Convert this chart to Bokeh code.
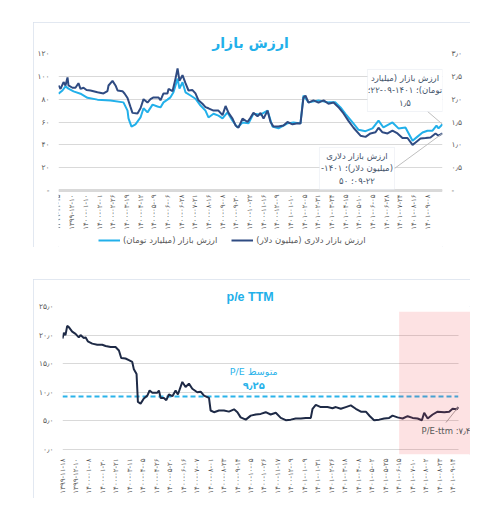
import math
from bokeh.plotting import figure
from bokeh.models import (Range1d, LinearAxis, FixedTicker, CustomJSTickFormatter, Legend,
                          LegendItem, Label, BoxAnnotation, Spacer)
from bokeh.layouts import column, row
from bokeh.embed import file_html
from bokeh.resources import INLINE

FA = "DejaVu Sans"
GRAY = "#595959"
LIGHT = "#22b0ea"
DARK = "#2f4b82"

# ---------------- top chart data ----------------
mv_dates = ["۱۳۹۹-۱۱-۱۵", "۱۳۹۹-۱۲-۱۰", "۱۴۰۰-۰۱-۱۰", "۱۴۰۰-۰۲-۰۱", "۱۴۰۰-۰۲-۲۶", "۱۴۰۰-۰۳-۱۹",
            "۱۴۰۰-۰۴-۱۲", "۱۴۰۰-۰۵-۰۹", "۱۴۰۰-۰۶-۰۶", "۱۴۰۰-۰۶-۲۸", "۱۴۰۰-۰۷-۲۱", "۱۴۰۰-۰۸-۱۶",
            "۱۴۰۰-۰۹-۰۸", "۱۴۰۰-۰۹-۳۰", "۱۴۰۰-۱۰-۲۲", "۱۴۰۰-۱۱-۱۶", "۱۴۰۰-۱۲-۰۹", "۱۴۰۱-۰۱-۱۰",
            "۱۴۰۱-۰۲-۰۵", "۱۴۰۱-۰۲-۳۱", "۱۴۰۱-۰۳-۲۴", "۱۴۰۱-۰۴-۱۵", "۱۴۰۱-۰۵-۱۰", "۱۴۰۱-۰۶-۰۵",
            "۱۴۰۱-۰۶-۲۸", "۱۴۰۱-۰۷-۲۴", "۱۴۰۱-۰۸-۱۶", "۱۴۰۱-۰۹-۰۸"]

# market value in million USD (left axis); x = position on the date axis
usd_x = [0.00, 0.15, 0.37, 0.51, 0.66, 0.73, 1.02, 1.24, 1.46, 1.61, 1.83, 2.05, 2.34, 2.85, 3.29,
         3.58, 3.66, 3.95, 4.17, 4.32, 4.68, 4.83, 5.05, 5.27, 5.41, 5.78, 6.00, 6.22, 6.51, 6.73,
         6.95, 7.32, 7.46, 7.68, 7.97, 8.05, 8.34, 8.56, 8.71, 8.85, 9.07, 9.29, 9.51, 9.80, 10.02,
         10.24, 10.53, 10.75, 10.97, 11.34, 11.70, 12.00, 12.22, 12.44, 12.73, 12.95, 13.17, 13.46,
         13.83, 14.05, 14.26, 14.56, 14.78, 15.00, 15.29, 15.51, 15.73, 16.09, 16.46, 16.75, 17.12,
         17.48, 17.70, 17.92, 18.07, 18.29, 18.65, 19.02, 19.39, 19.75, 20.12, 20.48, 20.85, 21.21,
         21.58, 22.09, 22.46, 22.82, 23.19, 23.41, 23.70, 24.07, 24.43, 24.80, 25.16, 25.53, 25.90,
         26.12, 26.48, 26.85, 27.21, 27.58, 27.80, 28.09]
usd_y = [92, 89, 95, 92, 99, 92, 90, 90, 94, 89, 90, 88, 87.6, 86, 85,
         87, 92, 96, 92, 87.6, 87, 85, 81, 73, 68, 67.5, 72, 80, 77, 80,
         81.5, 81.5, 79, 85, 85, 89, 87, 98, 107, 96, 101, 94, 87.6, 88, 85,
         79, 76, 73, 72, 70, 70, 66, 74, 68, 63, 57, 55, 63,
         60, 64, 68, 65, 68, 63, 70, 60, 56, 56, 57, 60, 58,
         59, 58.6, 81.5, 83, 77, 79, 77, 79, 76, 77, 73, 67.5, 61,
         55, 48, 47, 50, 51, 55, 51, 50, 52.5, 50, 46, 46, 40,
         42, 45.5, 46, 46.5, 50, 48, 50]

# market value in thousand billion toman (right axis)
toman_x = [0.00, 0.29, 0.51, 0.73, 1.10, 1.61, 2.12, 2.85, 3.80, 4.75, 5.05, 5.12, 5.34, 5.63, 6.00,
           6.22, 6.51, 6.88, 7.24, 7.46, 7.68, 7.97, 8.19, 8.41, 8.71, 8.85, 9.07, 9.29, 9.66,
           10.02, 10.39, 10.75, 10.97, 11.34, 11.70, 12.00, 12.36, 12.73, 13.09, 13.46, 13.90,
           14.26, 14.78, 15.29, 15.65, 16.09, 16.75, 17.19, 17.70, 17.92, 18.29, 19.02, 19.75,
           20.26, 20.63, 20.99, 21.51, 21.95, 22.46, 22.97, 23.41, 23.77, 24.43, 24.87, 25.38,
           25.90, 26.26, 26.63, 26.99, 27.36, 27.65, 27.80, 28.09]
toman_y = [2.12, 2.19, 2.28, 2.23, 2.17, 2.12, 2.03, 1.99, 1.97, 1.93, 1.75, 1.58, 1.40, 1.45, 1.60,
           1.80, 1.71, 1.88, 1.84, 1.82, 1.93, 1.99, 2.04, 2.15, 2.45, 2.23, 2.37, 2.15, 2.08,
           2.01, 1.86, 1.75, 1.60, 1.68, 1.64, 1.58, 1.71, 1.53, 1.38, 1.49, 1.47,
           1.68, 1.66, 1.75, 1.40, 1.36, 1.47, 1.49, 1.47, 2.08, 1.93, 1.97, 1.93,
           1.93, 1.82, 1.68, 1.49, 1.33, 1.30, 1.36, 1.53, 1.38, 1.49, 1.36, 1.38,
           1.09, 1.18, 1.27, 1.31, 1.31, 1.42, 1.36, 1.45]

# ---------------- bottom chart data ----------------
pe_dates = ["۱۳۹۹-۱۱-۱۸", "۱۳۹۹-۱۲-۱۰", "۱۴۰۰-۰۱-۰۸", "۱۴۰۰-۰۱-۳۰", "۱۴۰۰-۰۲-۲۱", "۱۴۰۰-۰۳-۱۱",
            "۱۴۰۰-۰۴-۰۵", "۱۴۰۰-۰۴-۲۶", "۱۴۰۰-۰۵-۲۰", "۱۴۰۰-۰۶-۱۶", "۱۴۰۰-۰۷-۰۷", "۱۴۰۰-۰۸-۰۱",
            "۱۴۰۰-۰۸-۲۳", "۱۴۰۰-۰۹-۱۴", "۱۴۰۰-۱۰-۰۵", "۱۴۰۰-۱۰-۲۶", "۱۴۰۰-۱۱-۱۷", "۱۴۰۰-۱۲-۰۹",
            "۱۴۰۱-۰۱-۰۹", "۱۴۰۱-۰۱-۳۱", "۱۴۰۱-۰۲-۲۶", "۱۴۰۱-۰۳-۱۸", "۱۴۰۱-۰۴-۰۸", "۱۴۰۱-۰۵-۰۲",
            "۱۴۰۱-۰۵-۲۵", "۱۴۰۱-۰۶-۱۵", "۱۴۰۱-۰۷-۱۰", "۱۴۰۱-۰۸-۰۲", "۱۴۰۱-۰۸-۲۳", "۱۴۰۱-۰۹-۱۴"]
pe_x = [0.00, 0.10, 0.22, 0.35, 0.47, 0.72, 0.97, 1.21, 1.34, 1.58, 1.71, 1.88, 2.21, 2.58, 2.95,
        3.20, 3.57, 3.94, 4.19, 4.36, 4.68, 4.93, 5.18, 5.30, 5.50, 5.60, 5.80, 6.04, 6.30, 6.47,
        6.67, 7.04, 7.16, 7.29, 7.53, 7.71, 7.90, 8.16, 8.40, 8.57, 8.90, 9.14, 9.39, 9.64, 10.01,
        10.26, 10.51, 10.88, 11.00, 11.25, 11.62, 11.99, 12.36, 12.74, 12.99, 13.23, 13.61, 13.98,
        14.35, 14.72, 15.09, 15.46, 15.84, 16.21, 16.58, 16.95, 17.32, 17.70, 18.07, 18.44, 18.57,
        18.81, 19.18, 19.68, 20.05, 20.30, 20.67, 21.04, 21.41, 21.78, 22.16, 22.53, 22.83, 23.14,
        23.52, 23.89, 24.26, 24.51, 24.88, 25.26, 25.63, 26.00, 26.37, 26.69, 26.86, 27.12, 27.49,
        27.86, 28.35, 28.72, 28.97, 29.27, 29.39]
pe_y = [19.4, 20.4, 20.0, 21.6, 21.4, 20.6, 20.2, 19.6, 20.0, 19.5, 19.6, 18.9, 18.5, 18.3, 18.3,
        18.1, 17.9, 17.9, 17.3, 16.0, 15.9, 15.6, 15.3, 14.0, 13.2, 8.3, 8.0, 8.9, 9.4, 10.3,
        9.9, 9.9, 10.3, 9.0, 9.0, 8.6, 9.6, 9.3, 10.3, 9.6, 11.8, 10.9, 11.5, 10.6, 10.0,
        10.1, 9.4, 9.0, 6.8, 6.5, 6.8, 6.8, 6.6, 7.0, 6.5, 5.6, 5.2, 5.9,
        6.1, 6.2, 6.5, 6.1, 6.4, 5.5, 5.1, 5.2, 5.4, 5.4, 5.5, 5.5, 7.1,
        7.8, 7.4, 7.4, 7.2, 7.4, 7.1, 7.4, 7.7, 7.1, 6.6, 6.6, 5.8, 5.1,
        5.2, 5.4, 5.5, 5.9, 5.6, 5.4, 5.8, 5.5, 5.4, 5.1, 6.4, 5.4, 6.1,
        6.6, 6.5, 6.6, 7.1, 7.0, 7.4]
pe_mean = 9.25
pe_recent_start = 25.0

RLM = "\u200f"


def rtl(s):
    return RLM + s + RLM


fa_fmt_int = CustomJSTickFormatter(code="""
const fa = "۰۱۲۳۴۵۶۷۸۹";
if (tick == 0) return "-";
return String(Math.round(tick)).replace(/[0-9]/g, d => fa[d]);
""")
fa_fmt_dec_dash = CustomJSTickFormatter(code="""
const fa = "۰۱۲۳۴۵۶۷۸۹";
if (tick == 0) return "-";
return tick.toFixed(1).replace(".", "٫").replace(/[0-9]/g, d => fa[d]);
""")
fa_fmt_dec = CustomJSTickFormatter(code="""
const fa = "۰۱۲۳۴۵۶۷۸۹";
return tick.toFixed(1).replace(".", "٫").replace(/[0-9]/g, d => fa[d]);
""")


def style_y(ax, fmt):
    ax.formatter = fmt
    ax.axis_line_color = None
    ax.major_tick_line_color = None
    ax.minor_tick_line_color = None
    ax.major_tick_out = 0
    ax.minor_tick_out = 0
    ax.major_label_text_font = FA
    ax.major_label_text_font_size = "7.5px"
    ax.major_label_text_color = GRAY
    ax.major_label_standoff = 9


def style_x(ax, labels):
    ax.ticker = FixedTicker(ticks=list(range(len(labels))))
    ax.major_label_overrides = {i: lab for i, lab in enumerate(labels)}
    ax.major_label_orientation = math.pi / 2
    ax.major_tick_line_color = None
    ax.minor_tick_line_color = None
    ax.major_tick_out = 0
    ax.minor_tick_out = 0
    ax.major_label_text_font = FA
    ax.major_label_text_font_size = "7px"
    ax.major_label_text_color = GRAY
    ax.major_label_standoff = 4


BORDER = {"outline": "1.5px solid #d9e1ec", "outline-offset": "-1px"}

# ================= top figure =================
# the frame runs down to the bottom edge so that the legend under the date labels is not clipped;
# the date axis is pinned at value 0
p1 = figure(width=437, height=225, output_backend="svg", toolbar_location=None,
            x_range=Range1d(0, usd_x[-1]), y_range=Range1d(-49.9, 120),
            min_border_left=25, min_border_right=28, min_border_top=31, min_border_bottom=0,
            background_fill_color="white", border_fill_color="white", outline_line_color=None)
p1.frame_align = False
p1.styles = BORDER
p1.extra_y_ranges = {"toman": Range1d(-49.9 / 40, 3)}
p1.add_layout(LinearAxis(y_range_name="toman"), "right")

p1.title.text = "ارزش بازار"
p1.title.align = "center"
p1.title.text_font = FA
p1.title.text_font_size = "14px"
p1.title.text_font_style = "bold"
p1.title.text_color = LIGHT
p1.title.standoff = 6

p1.yaxis[0].ticker = FixedTicker(ticks=[0, 20, 40, 60, 80, 100, 120])
p1.yaxis[1].ticker = FixedTicker(ticks=[0, 0.5, 1, 1.5, 2, 2.5, 3])
style_y(p1.yaxis[0], fa_fmt_int)
style_y(p1.yaxis[1], fa_fmt_dec_dash)
style_x(p1.xaxis[0], mv_dates)
p1.xaxis[0].fixed_location = 0
p1.xaxis[0].axis_line_color = "#d9d9d9"
p1.xaxis[0].axis_line_width = 3
p1.xgrid.visible = False
p1.ygrid.grid_line_color = "#d9d9d9"

r_t = p1.line(toman_x, toman_y, y_range_name="toman", line_color=LIGHT, line_width=2)
r_u = p1.line(usd_x, usd_y, line_color=DARK, line_width=2)

leg = Legend(items=[LegendItem(label=rtl("ارزش بازار (میلیارد تومان)"), renderers=[r_t]),
                    LegendItem(label=rtl("ارزش بازار دلاری (میلیون دلار)"), renderers=[r_u])],
             orientation="horizontal", location=(40, 2), spacing=14, padding=0, margin=0,
             border_line_color=None, background_fill_alpha=0,
             label_text_font=FA, label_text_font_size="8.5px", label_text_color=GRAY,
             glyph_width=22, glyph_height=10, label_standoff=3, label_height=10)
p1.add_layout(leg)

# leader lines for data labels
p1.segment(x0=[27.0], y0=[69.2], x1=[toman_x[-1]], y1=[toman_y[-1] * 120 / 3],
           line_color="#bfbfbf", line_width=1)
p1.segment(x0=[24.58], y0=[19.3], x1=[usd_x[-1]], y1=[usd_y[-1]],
           line_color="#bfbfbf", line_width=1)

boxes = [
    (22.6, 28.09, 106.0, 69.2, ["ارزش بازار (میلیارد", "تومان)؛ ۱۴۰۱-۰۹-۲۲؛", "۱٫۵"]),
    (19.09, 24.58, 37.7, 0.9, ["ارزش بازار دلاری", "(میلیون دلار)؛ ۱۴۰۱-", "۰۹-۲۲؛ ۵۰"]),
]
for (bl, br, bt, bb, lines) in boxes:
    p1.add_layout(BoxAnnotation(left=bl, right=br, top=bt, bottom=bb, fill_color="white",
                                fill_alpha=1, line_color="#d0d8e4", line_width=1))
    cx = (bl + br) / 2
    step = (bt - bb) / 3.4
    for k, ln in enumerate(lines):
        p1.add_layout(Label(x=cx, y=bt - step * (k + 0.7), text=rtl(ln), text_align="center",
                            text_baseline="middle", text_font=FA, text_font_size="8.5px",
                            text_color="#44546a"))

# ================= bottom figure =================
p2 = figure(width=437, height=219, output_backend="svg", toolbar_location=None,
            x_range=Range1d(0, 30.3), y_range=Range1d(-0.9, 25),
            min_border_left=29, min_border_right=0, min_border_top=27, min_border_bottom=44,
            background_fill_color="white", border_fill_color="white", outline_line_color=None)
p2.frame_align = False
p2.styles = BORDER
p2.title.text = "p/e TTM"
p2.title.align = "left"
p2.title.offset = 164
p2.title.text_font = "Liberation Sans"
p2.title.text_font_size = "12.5px"
p2.title.text_font_style = "bold"
p2.title.text_color = LIGHT
p2.title.standoff = 6

p2.yaxis[0].ticker = FixedTicker(ticks=[0, 5, 10, 15, 20, 25])
style_y(p2.yaxis[0], fa_fmt_dec)
style_x(p2.xaxis[0], pe_dates)
p2.xaxis[0].axis_line_color = None
p2.xgrid.visible = False
p2.ygrid.grid_line_color = "#d9d9d9"
if "cross_bounds" in p2.ygrid[0].properties():
    p2.ygrid[0].cross_bounds = (pe_x[0], pe_x[-1] + 0.05)

p2.add_layout(BoxAnnotation(left=pe_recent_start, top=24.1, fill_color="#f03c46",
                            fill_alpha=0.15, line_color=None))

p2.line([pe_x[0], pe_x[-1]], [pe_mean, pe_mean], line_color="#2bb3ea", line_width=2,
        line_dash="5 3")
p2.line(pe_x, pe_y, line_color="#1e2a46", line_width=2)

p2.segment(x0=[28.48], y0=[4.7], x1=[pe_x[-1]], y1=[pe_y[-1]], line_color="#a6a6a6", line_width=1)
p2.add_layout(Label(x=28.48, y=3.2, text="P/E-ttm :۷٫۴", text_align="center",
                    text_baseline="middle", text_font=FA, text_font_size="8.5px",
                    text_color=GRAY))
p2.add_layout(Label(x=14.2, y=13.6, text="P/E متوسط", text_align="center",
                    text_baseline="middle", text_font=FA, text_font_size="9.5px",
                    text_color="#2bb3ea"))
p2.add_layout(Label(x=14.2, y=11.2, text="۹٫۲۵", text_align="center",
                    text_baseline="middle", text_font=FA, text_font_size="10px",
                    text_font_style="bold", text_color="#2bb3ea"))

layout = row(Spacer(width=33), column(Spacer(height=22), p1, Spacer(height=32), p2))

open("out.html", "w").write(file_html(layout, INLINE))
